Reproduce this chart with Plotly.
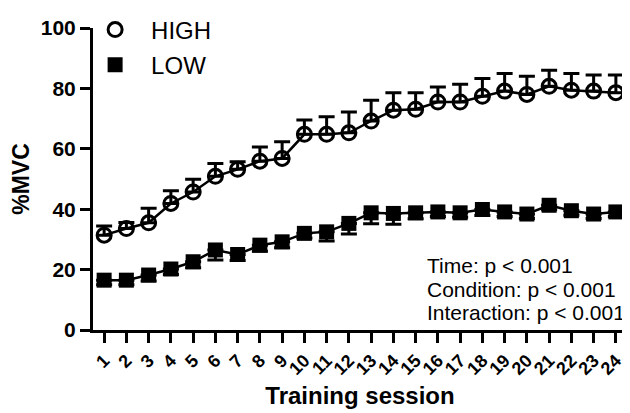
import plotly.graph_objects as go

sessions = list(range(1, 25))
tick_labels = [str(s) for s in sessions]

high_mean = [31.4, 33.6, 35.5, 41.9, 45.7, 50.9, 53.2, 55.9, 56.8, 64.8, 64.8, 65.3,
             69.2, 72.8, 73.1, 75.5, 75.5, 77.4, 79.1, 78.0, 80.7, 79.4, 79.1, 78.6]
high_err = [3.0, 2.0, 4.8, 4.2, 4.2, 4.2, 2.5, 4.7, 5.5, 4.7, 5.8, 6.9,
            6.9, 5.8, 5.5, 5.0, 5.9, 5.9, 5.8, 6.0, 5.3, 5.5, 5.3, 5.8]

low_mean = [16.5, 16.5, 18.2, 20.2, 22.6, 26.5, 25.0, 28.1, 29.2, 32.0, 32.5, 35.3,
            38.8, 38.6, 38.8, 39.1, 38.8, 39.9, 39.1, 38.4, 41.3, 39.5, 38.4, 39.1]
low_err = [1.5, 1.5, 2.0, 1.8, 2.0, 3.3, 2.0, 2.0, 2.0, 1.5, 3.0, 3.5,
           3.6, 3.6, 2.0, 1.5, 1.5, 2.0, 1.5, 1.5, 1.5, 1.5, 1.5, 1.5]

stats_lines = ["Time: p < 0.001", "Condition: p < 0.001", "Interaction: p < 0.001"]

FONT = "Liberation Sans, Arial, sans-serif"
zeros = [0] * len(sessions)

fig = go.Figure()

# connecting lines
fig.add_trace(go.Scatter(x=sessions, y=high_mean, mode="lines",
                         line=dict(color="black", width=2.5),
                         showlegend=False, hoverinfo="skip"))
fig.add_trace(go.Scatter(x=sessions, y=low_mean, mode="lines",
                         line=dict(color="black", width=2.5),
                         showlegend=False, hoverinfo="skip"))

# markers with one-sided error bars
fig.add_trace(go.Scatter(
    x=sessions, y=high_mean, mode="markers", name="HIGH", legendgroup="h",
    marker=dict(symbol="circle-open", size=14, color="black", line=dict(width=3, color="black")),
    error_y=dict(type="data", symmetric=False, array=high_err, arrayminus=zeros,
                 color="black", thickness=3, width=8),
))
fig.add_trace(go.Scatter(
    x=sessions, y=low_mean, mode="markers", name="LOW", legendgroup="l",
    marker=dict(symbol="square", size=15, color="black", line=dict(width=0)),
    error_y=dict(type="data", symmetric=False, array=zeros, arrayminus=low_err,
                 color="black", thickness=3, width=8),
))

# stats text (positions in plot-area fractions)
stat_y = [265, 289, 312]  # target pixel rows on the page
for txt, py in zip(stats_lines, stat_y):
    fig.add_annotation(text=txt, xref="paper", yref="paper",
                       x=(425 - 93) / 534, y=(330 - py) / 302,
                       xanchor="left", yanchor="middle", showarrow=False,
                       font=dict(family=FONT, size=21, color="black"))

# page body has an 8px margin; figure is sized/margined to compensate
fig.update_layout(
    width=622, height=405,
    margin=dict(l=85, r=3, t=20, b=83, autoexpand=False),
    paper_bgcolor="white", plot_bgcolor="white",
    font=dict(family=FONT, color="black"),
    legend=dict(x=-0.026, y=1.068, xanchor="left", yanchor="top",
                font=dict(family=FONT, size=24, color="black"),
                itemwidth=62, tracegroupgap=1, bgcolor="rgba(0,0,0,0)"),
    xaxis=dict(range=[0.5, 24.5], tickmode="array", tickvals=sessions, ticktext=tick_labels,
               tickangle=-45, ticks="outside", ticklen=10, tickwidth=3, tickcolor="black",
               showline=True, linewidth=3, linecolor="black", showgrid=False, zeroline=False,
               automargin=False,
               tickfont=dict(family=FONT, size=18, color="black", weight="bold"),
               title=dict(text="<b>Training session</b>", font=dict(family=FONT, size=24), standoff=10)),
    yaxis=dict(range=[0, 100], tickvals=[0, 20, 40, 60, 80, 100],
               ticks="outside", ticklen=10, tickwidth=3, tickcolor="black",
               showline=True, linewidth=3, linecolor="black", showgrid=False, zeroline=False,
               automargin=False,
               tickfont=dict(family=FONT, size=21, color="black", weight="bold"),
               title=dict(text="<b>%MVC</b>", font=dict(family=FONT, size=23), standoff=10)),
)

fig.write_html("out.html")
